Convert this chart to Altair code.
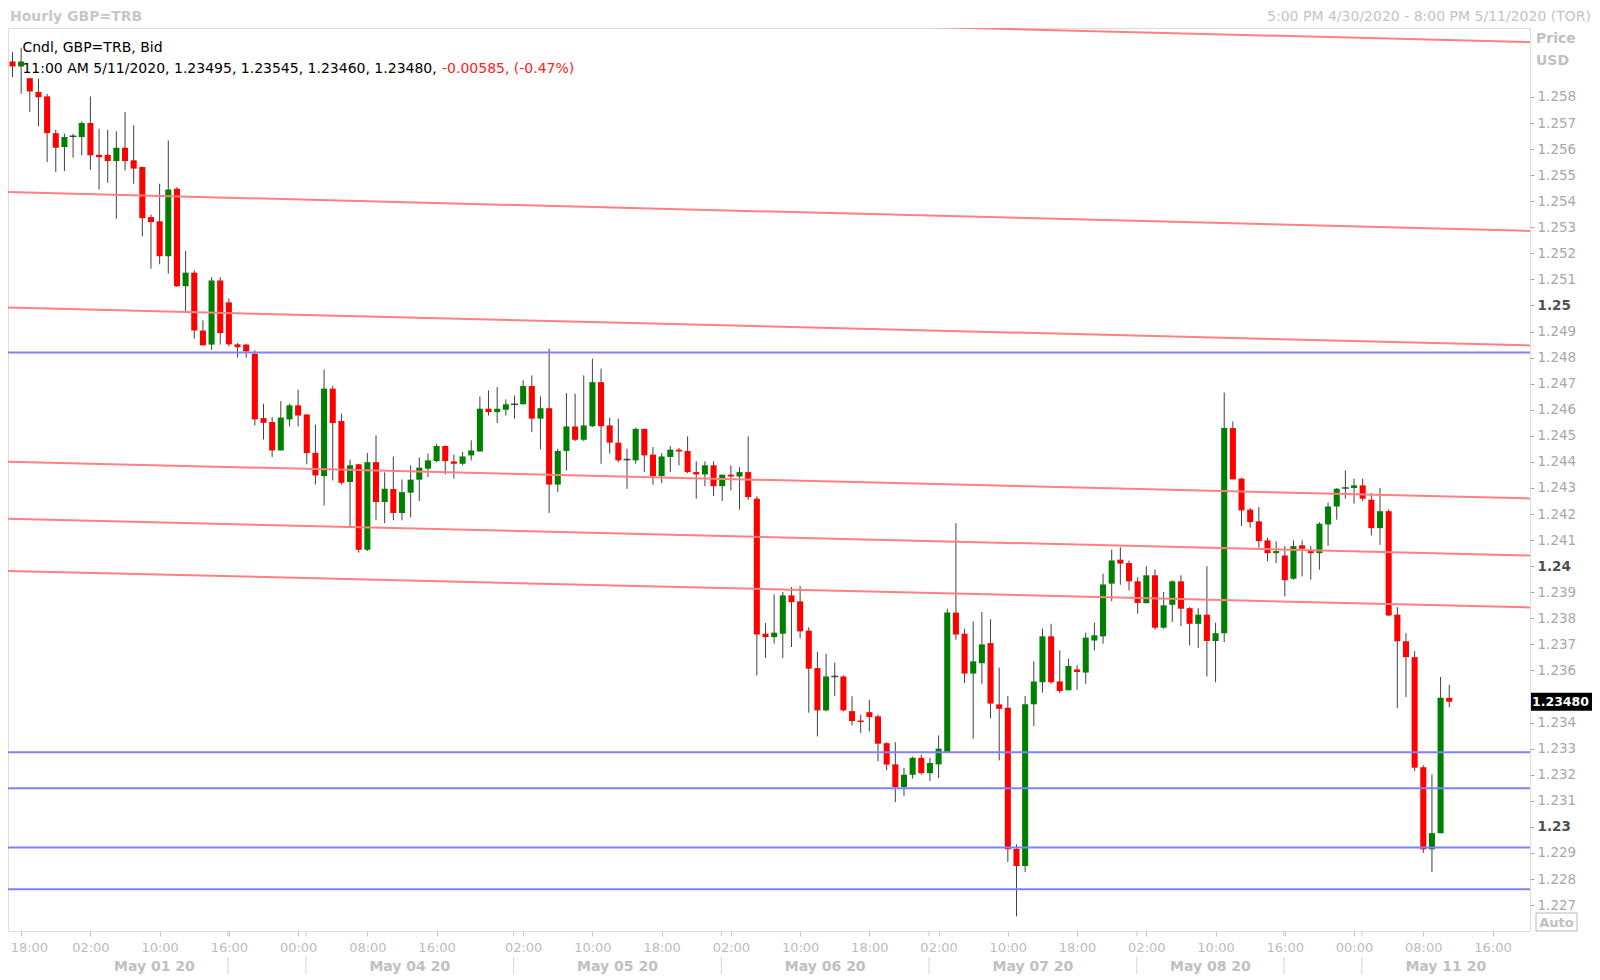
import json
import altair as alt
import pandas as pd

# ---------------- data (hourly GBP candles) ----------------
opens = [
    1.25936, 1.25917, 1.25872, 1.25819, 1.25802, 1.25661, 1.25608, 1.25649, 1.25646, 1.25700,
    1.25578, 1.25578, 1.25554, 1.25605, 1.25557, 1.25531, 1.25339, 1.25323, 1.25189, 1.25448,
    1.25074, 1.25126, 1.24904, 1.24850, 1.25096, 1.25012, 1.24851, 1.24850, 1.24815, 1.24568,
    1.24553, 1.24444, 1.24563, 1.24617, 1.24582, 1.24435, 1.24346, 1.24681, 1.24557, 1.24323,
    1.24391, 1.24063, 1.24399, 1.24246, 1.24296, 1.24204, 1.24282, 1.24332, 1.24374, 1.24403,
    1.24461, 1.24402, 1.24393, 1.24425, 1.24440, 1.24604, 1.24591, 1.24600, 1.24621, 1.24621,
    1.24691, 1.24566, 1.24606, 1.24313, 1.24442, 1.24536, 1.24485, 1.24537, 1.24706, 1.24540,
    1.24474, 1.24409, 1.24406, 1.24527, 1.24428, 1.24346, 1.24419, 1.24447, 1.24442, 1.24361,
    1.24352, 1.24387, 1.24307, 1.24351, 1.24344, 1.24361, 1.24259, 1.23741, 1.23728, 1.23741,
    1.23888, 1.23865, 1.23753, 1.23609, 1.23447, 1.23577, 1.23577, 1.23444, 1.23408, 1.23440,
    1.23424, 1.23321, 1.23240, 1.23153, 1.23200, 1.23265, 1.23206, 1.23240, 1.23287, 1.23822,
    1.23741, 1.23588, 1.23628, 1.23705, 1.23470, 1.23457, 1.22916, 1.22850, 1.23470, 1.23555,
    1.23731, 1.23558, 1.23524, 1.23604, 1.23592, 1.23715, 1.23731, 1.23933, 1.24025, 1.24012,
    1.23942, 1.23858, 1.23965, 1.23764, 1.23852, 1.23942, 1.23839, 1.23779, 1.23814, 1.23713,
    1.23743, 1.24530, 1.24336, 1.24217, 1.24172, 1.24099, 1.24050, 1.24041, 1.23952, 1.24080,
    1.24058, 1.24050, 1.24160, 1.24229, 1.24300, 1.24300, 1.24310, 1.24255, 1.24146, 1.24211,
    1.23814, 1.23712, 1.23651, 1.23229, 1.22914, 1.22976, 1.23495,
]
highs = [
    1.25972, 1.25989, 1.25872, 1.25870, 1.25812, 1.25674, 1.25659, 1.25659, 1.25706, 1.25802,
    1.25678, 1.25674, 1.25668, 1.25742, 1.25691, 1.25534, 1.25349, 1.25467, 1.25633, 1.25454,
    1.25209, 1.25135, 1.24943, 1.25108, 1.25108, 1.25027, 1.24856, 1.24853, 1.24828, 1.24623,
    1.24572, 1.24633, 1.24623, 1.24677, 1.24582, 1.24543, 1.24754, 1.24691, 1.24585, 1.24409,
    1.24391, 1.24434, 1.24502, 1.24360, 1.24421, 1.24333, 1.24387, 1.24417, 1.24432, 1.24470,
    1.24463, 1.24428, 1.24438, 1.24483, 1.24651, 1.24674, 1.24687, 1.24640, 1.24655, 1.24713,
    1.24732, 1.24651, 1.24834, 1.24451, 1.24664, 1.24662, 1.24732, 1.24796, 1.24758, 1.24570,
    1.24566, 1.24451, 1.24531, 1.24527, 1.24457, 1.24434, 1.24461, 1.24453, 1.24498, 1.24402,
    1.24402, 1.24402, 1.24351, 1.24387, 1.24380, 1.24498, 1.24268, 1.23782, 1.23892, 1.23901,
    1.23920, 1.23924, 1.23766, 1.23671, 1.23664, 1.23630, 1.23581, 1.23501, 1.23430, 1.23488,
    1.23431, 1.23325, 1.23325, 1.23227, 1.23270, 1.23277, 1.23265, 1.23351, 1.23837, 1.24165,
    1.23760, 1.23788, 1.23824, 1.23796, 1.23611, 1.23502, 1.22933, 1.23502, 1.23635, 1.23760,
    1.23779, 1.23677, 1.23645, 1.23620, 1.23745, 1.23783, 1.23971, 1.24064, 1.24073, 1.24022,
    1.23957, 1.24000, 1.23987, 1.23901, 1.23946, 1.23965, 1.23843, 1.23839, 1.24000, 1.23783,
    1.24666, 1.24555, 1.24339, 1.24223, 1.24227, 1.24109, 1.24095, 1.24077, 1.24099, 1.24099,
    1.24077, 1.24169, 1.24244, 1.24300, 1.24367, 1.24336, 1.24336, 1.24280, 1.24300, 1.24218,
    1.23843, 1.23743, 1.23674, 1.23236, 1.23201, 1.23575, 1.23545,
]
lows = [
    1.25876, 1.25812, 1.25742, 1.25687, 1.25550, 1.25512, 1.25516, 1.25567, 1.25576, 1.25521,
    1.25445, 1.25471, 1.25333, 1.25518, 1.25467, 1.25265, 1.25141, 1.25158, 1.25122, 1.25071,
    1.24971, 1.24873, 1.24847, 1.24830, 1.24850, 1.24843, 1.24800, 1.24800, 1.24540, 1.24486,
    1.24419, 1.24444, 1.24536, 1.24536, 1.24391, 1.24313, 1.24233, 1.24329, 1.24313, 1.24154,
    1.24052, 1.24058, 1.24176, 1.24165, 1.24176, 1.24176, 1.24188, 1.24250, 1.24342, 1.24399,
    1.24352, 1.24336, 1.24387, 1.24406, 1.24440, 1.24578, 1.24549, 1.24578, 1.24566, 1.24621,
    1.24514, 1.24448, 1.24204, 1.24284, 1.24367, 1.24480, 1.24480, 1.24534, 1.24393, 1.24432,
    1.24399, 1.24297, 1.24393, 1.24361, 1.24313, 1.24319, 1.24361, 1.24387, 1.24357, 1.24259,
    1.24307, 1.24269, 1.24250, 1.24291, 1.24217, 1.24255, 1.23581, 1.23648, 1.23703, 1.23648,
    1.23690, 1.23724, 1.23438, 1.23347, 1.23443, 1.23501, 1.23443, 1.23389, 1.23361, 1.23366,
    1.23252, 1.23217, 1.23095, 1.23118, 1.23185, 1.23201, 1.23176, 1.23187, 1.23287, 1.23718,
    1.23552, 1.23338, 1.23549, 1.23417, 1.23255, 1.22865, 1.22657, 1.22827, 1.23387, 1.23515,
    1.23549, 1.23513, 1.23524, 1.23526, 1.23549, 1.23677, 1.23703, 1.23866, 1.23929, 1.23907,
    1.23818, 1.23858, 1.23756, 1.23760, 1.23786, 1.23770, 1.23696, 1.23686, 1.23577, 1.23555,
    1.23709, 1.24333, 1.24154, 1.24148, 1.24071, 1.24020, 1.24012, 1.23884, 1.23948, 1.23961,
    1.23948, 1.23987, 1.24078, 1.24178, 1.24259, 1.24240, 1.24250, 1.24118, 1.24082, 1.23809,
    1.23456, 1.23498, 1.23214, 1.22900, 1.22827, 1.22976, 1.23460,
]
closes = [
    1.25917, 1.25936, 1.25821, 1.25799, 1.25661, 1.25605, 1.25646, 1.25649, 1.25700, 1.25576,
    1.25569, 1.25554, 1.25605, 1.25554, 1.25525, 1.25335, 1.25320, 1.25189, 1.25445, 1.25074,
    1.25126, 1.24904, 1.24847, 1.25096, 1.24894, 1.24851, 1.24840, 1.24824, 1.24563, 1.24550,
    1.24444, 1.24570, 1.24617, 1.24578, 1.24434, 1.24348, 1.24681, 1.24549, 1.24320, 1.24387,
    1.24063, 1.24399, 1.24246, 1.24297, 1.24204, 1.24284, 1.24332, 1.24378, 1.24406, 1.24461,
    1.24403, 1.24393, 1.24421, 1.24444, 1.24604, 1.24591, 1.24604, 1.24621, 1.24621, 1.24691,
    1.24566, 1.24606, 1.24313, 1.24442, 1.24536, 1.24485, 1.24540, 1.24706, 1.24537, 1.24474,
    1.24406, 1.24409, 1.24527, 1.24425, 1.24346, 1.24421, 1.24447, 1.24440, 1.24361, 1.24352,
    1.24387, 1.24307, 1.24351, 1.24344, 1.24361, 1.24265, 1.23738, 1.23728, 1.23745, 1.23888,
    1.23862, 1.23750, 1.23607, 1.23447, 1.23577, 1.23577, 1.23447, 1.23406, 1.23402, 1.23421,
    1.23319, 1.23239, 1.23153, 1.23200, 1.23265, 1.23206, 1.23245, 1.23300, 1.23822, 1.23738,
    1.23588, 1.23635, 1.23700, 1.23473, 1.23453, 1.22914, 1.22850, 1.23470, 1.23558, 1.23731,
    1.23555, 1.23521, 1.23617, 1.23594, 1.23726, 1.23735, 1.23930, 1.24022, 1.24010, 1.23942,
    1.23859, 1.23965, 1.23764, 1.23850, 1.23942, 1.23837, 1.23779, 1.23814, 1.23713, 1.23743,
    1.24530, 1.24333, 1.24214, 1.24169, 1.24096, 1.24050, 1.24058, 1.23946, 1.24077, 1.24067,
    1.24050, 1.24163, 1.24229, 1.24297, 1.24300, 1.24310, 1.24259, 1.24146, 1.24211, 1.23811,
    1.23712, 1.23651, 1.23227, 1.22914, 1.22976, 1.23495, 1.23480,
]

# time axis (candle index positions) and labels
tick_idx = [1, 9, 17, 25, 33, 41, 49, 59, 67, 75, 83, 91, 99, 107, 115, 123, 131, 139, 147, 155, 163, 171]
tick_labels = ["18:00", "02:00", "10:00", "16:00", "00:00", "08:00", "16:00", "02:00", "10:00", "18:00",
               "02:00", "10:00", "18:00", "02:00", "10:00", "18:00", "02:00", "10:00", "16:00", "00:00",
               "08:00", "16:00"]
date_pos = [16.4, 45.9, 69.9, 93.9, 117.9, 138.4, 165.6]
date_labels = ["May 01 20", "May 04 20", "May 05 20", "May 06 20", "May 07 20", "May 08 20", "May 11 20"]
sep_pos = [24.9, 33.9, 57.9, 81.9, 105.9, 129.9, 146.9, 155.9]

# drawn trend lines (price at left edge / right edge) and horizontal levels
red_left = [1.26158, 1.25435, 1.24992, 1.24401, 1.24182, 1.23982]
red_right = [1.26010, 1.25286, 1.24847, 1.24260, 1.24041, 1.23842]
blue_levels = [1.2482, 1.23286, 1.23148, 1.22921, 1.22761]

price_ticks = [1.258, 1.257, 1.256, 1.255, 1.254, 1.253, 1.252, 1.251, 1.25, 1.249, 1.248, 1.247,
               1.246, 1.245, 1.244, 1.243, 1.242, 1.241, 1.24, 1.239, 1.238, 1.237, 1.236, 1.234,
               1.233, 1.232, 1.231, 1.23, 1.229, 1.228, 1.227]

x_domain = [-0.52, 175.33]
y_domain = [1.226007, 1.260644]

W, H = 1522, 903
PAD_R = 62
PAD_B = 43
FONT = "DejaVu Sans"

# ---------------- frames ----------------
n = len(opens)
candles = pd.DataFrame({"i": list(range(n)), "o": opens, "h": highs, "l": lows, "c": closes})
candles["dir"] = ["up" if c > o else ("down" if c < o else "flat") for o, c in zip(opens, closes)]

red_df = pd.DataFrame({"x1": [x_domain[0]] * len(red_left), "x2": [x_domain[1]] * len(red_left),
                       "p1": red_left, "p2": red_right})
blue_df = pd.DataFrame({"p": blue_levels})
date_df = pd.DataFrame({"pos": date_pos, "label": date_labels})
sep_df = pd.DataFrame({"pos": sep_pos})
last_df = pd.DataFrame({"p": [closes[-1]], "t": [f"{closes[-1]:.5f}"]})
one = pd.DataFrame({"k": [0]})

xs = alt.Scale(domain=x_domain, nice=False, zero=False)
ys = alt.Scale(domain=y_domain, nice=False, zero=False)

label_expr = "{}[indexof({}, datum.value)]".format(json.dumps(tick_labels), json.dumps(tick_idx))
x_axis = alt.Axis(orient="bottom", values=tick_idx, labelExpr=label_expr, title=None, grid=False,
                  domain=False, tickSize=5, tickColor="#c8c8c8", labelColor="#bcbcbc",
                  labelFont=FONT, labelFontSize=13, labelPadding=5, labelFlush=15,
                  labelFlushOffset=11, labelOverlap=False)
bold_test = "abs(datum.value*100 - round(datum.value*100)) < 0.0001"
y_axis = alt.Axis(orient="right", values=price_ticks, labelExpr="format(datum.value, '.3~f')",
                  title=None, grid=False, domain=False, tickSize=4, tickColor="#a8a8a8",
                  labelPadding=3, labelFont=FONT, labelFontSize=13.5, labelOverlap=False,
                  labelColor={"condition": {"test": bold_test, "value": "#505050"}, "value": "#a8a8a8"},
                  labelFontWeight={"condition": {"test": bold_test, "value": "bold"}, "value": "normal"})

X = lambda f: alt.X(f, scale=xs, axis=x_axis)
Y = lambda f: alt.Y(f, scale=ys, axis=y_axis)

base = alt.Chart(candles)
wicks = base.mark_rule(color="#404040", strokeWidth=1).encode(x=X("i:Q"), y=Y("l:Q"), y2="h:Q")
bodies = base.transform_calculate(xl="datum.i - 0.35", xr="datum.i + 0.35").mark_rect().encode(
    x=X("xl:Q"), x2="xr:Q", y=Y("o:Q"), y2="c:Q",
    color=alt.Color("dir:N", scale=alt.Scale(domain=["up", "down", "flat"],
                                             range=["#008000", "#ff0000", "#000000"]), legend=None))
doji = base.transform_filter("datum.o == datum.c").mark_tick(
    orient="horizontal", size=7, thickness=1.5, color="#000000").encode(x=X("i:Q"), y=Y("c:Q"))

red = alt.Chart(red_df).mark_rule(color="#ff8080", strokeWidth=2, clip=True).encode(
    x=X("x1:Q"), x2="x2:Q", y=Y("p1:Q"), y2="p2:Q")
blue = alt.Chart(blue_df).mark_rule(color="#8080ff", strokeWidth=2).encode(y=Y("p:Q"))

seps = alt.Chart(sep_df).mark_rule(color="#d4d4d4", strokeWidth=1).encode(
    x=X("pos:Q"), y=alt.value(H + 26), y2=alt.value(H + 44))
sep_ticks = alt.Chart(sep_df).mark_rule(color="#c8c8c8", strokeWidth=1).encode(
    x=X("pos:Q"), y=alt.value(H), y2=alt.value(H + 5))
dates = alt.Chart(date_df).mark_text(font=FONT, fontSize=14, fontWeight="bold", color="#c0c0c0",
                                     baseline="middle").encode(
    x=X("pos:Q"), y=alt.value(H + 36), text="label:N")

price_box = alt.Chart(last_df).transform_calculate(
    top="datum.p + 0.000345", bot="datum.p - 0.000345").mark_rect(color="#000000").encode(
    x=alt.value(W + 1), x2=alt.value(W + PAD_R), y=Y("top:Q"), y2="bot:Q")
price_txt = alt.Chart(last_df).mark_text(align="left", baseline="middle", color="white",
                                         fontWeight="bold", font=FONT, fontSize=12.5).encode(
    x=alt.value(W + 2), y=Y("p:Q"), text="t:N")


def label(text, x, y, **kw):
    props = dict(font=FONT, baseline="middle", align="left")
    props.update(kw)
    return alt.Chart(one).mark_text(text=text, **props).encode(x=alt.value(x), y=alt.value(y))


texts = [
    label("Hourly GBP=TRB", 2, -11.2, fontSize=14, fontWeight="bold", color="#c8c8c8"),
    label("5:00 PM 4/30/2020 - 8:00 PM 5/11/2020 (TOR)", W + PAD_R - 1, -11.2, fontSize=14,
          color="#c4c4c4", align="right"),
    label("Price", W + 6, 11, fontSize=14, fontWeight="bold", color="#c0c0c0"),
    label("USD", W + 6, 33.4, fontSize=14, fontWeight="bold", color="#c0c0c0"),
    label("Cndl, GBP=TRB, Bid", 14.4, 20, fontSize=14, color="#000000"),
    label("11:00 AM 5/11/2020, 1.23495, 1.23545, 1.23460, 1.23480,", 14.4, 41.3, fontSize=14,
          color="#000000"),
    label("-0.00585, (-0.47%)", 434, 41.3, fontSize=14, color="#ff2020"),
]

auto_box = alt.Chart(one).mark_rect(fill="white", stroke="#b8b8b8", strokeWidth=1).encode(
    x=alt.value(W + 6), x2=alt.value(W + 47), y=alt.value(H - 18), y2=alt.value(H))
auto_txt = label("Auto", W + 26.5, H - 8.5, fontSize=13, fontWeight="bold", color="#c0c0c0",
                 align="center")

chart = alt.layer(
    wicks, bodies, doji, red, blue, seps, sep_ticks, dates, price_box, price_txt,
    auto_box, auto_txt, *texts
).properties(
    width=W, height=H,
    autosize=alt.AutoSizeParams(type="none"),
    padding={"left": 0, "top": 20, "right": PAD_R, "bottom": PAD_B},
).configure_view(
    stroke="#a0a0a0", strokeWidth=1.5
).configure(
    font=FONT, background="white"
)

chart.save("out.html", embed_options={"renderer": "svg", "actions": False})
